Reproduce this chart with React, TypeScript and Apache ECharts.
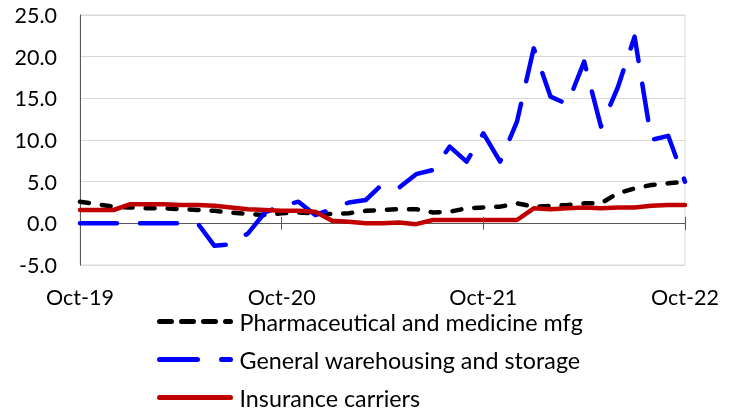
import React, { useEffect, useRef } from "react";
import * as echarts from "echarts";

const months = [
  "Oct-19", "Nov-19", "Dec-19", "Jan-20", "Feb-20", "Mar-20", "Apr-20", "May-20", "Jun-20", "Jul-20", "Aug-20", "Sep-20",
  "Oct-20", "Nov-20", "Dec-20", "Jan-21", "Feb-21", "Mar-21", "Apr-21", "May-21", "Jun-21", "Jul-21", "Aug-21", "Sep-21",
  "Oct-21", "Nov-21", "Dec-21", "Jan-22", "Feb-22", "Mar-22", "Apr-22", "May-22", "Jun-22", "Jul-22", "Aug-22", "Sep-22",
  "Oct-22",
];

const pharma = [
  2.6, 2.3, 2.0, 1.9, 1.8, 1.8, 1.7, 1.6, 1.5, 1.3, 1.1, 1.0,
  1.2, 1.3, 1.2, 1.1, 1.2, 1.5, 1.6, 1.7, 1.7, 1.3, 1.4, 1.8,
  1.9, 2.0, 2.4, 2.0, 2.1, 2.2, 2.4, 2.4, 3.6, 4.2, 4.6, 4.8,
  5.0,
];

const warehousing = [
  0, 0, 0, 0, 0, 0, 0, 0, -2.7, -2.5, -1.2, 1.3,
  2.1, 2.6, 1.0, 1.7, 2.5, 2.8, 4.7, 4.3, 5.9, 6.4, 9.2, 7.4,
  10.8, 7.4, 12.2, 21.0, 15.2, 14.3, 19.4, 11.6, 16.3, 22.4, 10.0, 10.5,
  5.0,
];

const insurance = [
  1.6, 1.6, 1.6, 2.3, 2.3, 2.3, 2.2, 2.2, 2.1, 1.9, 1.7, 1.6,
  1.5, 1.5, 1.4, 0.3, 0.2, 0.0, 0.0, 0.1, -0.1, 0.4, 0.4, 0.4,
  0.4, 0.4, 0.4, 1.8, 1.7, 1.8, 1.9, 1.8, 1.9, 1.9, 2.1, 2.2,
  2.2,
];

const seriesNames = [
  "Pharmaceutical and medicine mfg",
  "General warehousing and storage",
  "Insurance carriers",
];

// major (yearly) category ticks on the x axis
const yearTickIndices = [12, 24, 36];

const FONT = "Lato";
const FS = 21.5;
const LEGEND_FS = 23.3;

export default function App() {
  const ref = useRef<HTMLDivElement>(null);
  useEffect(() => {
    const chart = echarts.init(ref.current!, null, { renderer: "svg" });
    const everyYear = (i: number) => i % 12 === 0;
    const legendTops = [310, 348, 386];
    const legendDash: any[] = [[12, 10], [38, 24], "solid"];
    const tickHalf = 0.78;
    chart.setOption({
      animation: false,
      textStyle: { fontFamily: FONT },
      grid: {
        left: 80, right: 44, top: 15, bottom: 145,
        show: true, borderColor: "#d9d9d9", borderWidth: 1,
      },
      legend: seriesNames.map((name, i) => ({
        orient: "vertical",
        left: 157,
        top: legendTops[i],
        itemWidth: 71,
        itemHeight: 14,
        padding: 0,
        data: [name],
        itemStyle: { opacity: 0 },
        lineStyle: { width: 5, type: legendDash[i], cap: "round" },
        textStyle: {
          fontFamily: FONT, fontSize: LEGEND_FS, color: "#000",
          lineHeight: 22, padding: [0, 0, 0, 4],
        },
      })),
      xAxis: {
        type: "category",
        data: months,
        boundaryGap: false,
        axisLine: { onZero: true, lineStyle: { color: "#595959", width: 1 } },
        axisTick: { show: false },
        axisLabel: { interval: everyYear, margin: 21, fontSize: FS, color: "#000", fontFamily: FONT },
        splitLine: { show: false },
      },
      yAxis: {
        type: "value",
        min: -5,
        max: 25,
        interval: 5,
        axisLine: { show: true, lineStyle: { color: "#595959", width: 1 } },
        axisTick: { show: false },
        axisLabel: {
          margin: 23, fontSize: FS, color: "#000", fontFamily: FONT,
          formatter: (v: number) => v.toFixed(1),
        },
        splitLine: { lineStyle: { color: "#d9d9d9", width: 1 } },
      },
      series: [
        {
          name: seriesNames[0], type: "line", data: pharma, symbol: "none",
          lineStyle: { color: "#000000", width: 4.5, type: [9, 13], cap: "round", join: "round" },
          itemStyle: { color: "#000000" },
          markLine: {
            silent: true,
            symbol: "none",
            label: { show: false },
            lineStyle: { color: "#595959", width: 1, type: "solid" },
            data: yearTickIndices.map((i) => [
              { coord: [i, -tickHalf] },
              { coord: [i, tickHalf] },
            ]),
          },
        },
        {
          name: seriesNames[1], type: "line", data: warehousing, symbol: "none",
          lineStyle: { color: "#0000ff", width: 4.5, type: [37, 23], cap: "round", join: "round" },
          itemStyle: { color: "#0000ff" },
        },
        {
          name: seriesNames[2], type: "line", data: insurance, symbol: "none",
          lineStyle: { color: "#c00000", width: 4.5, type: "solid", cap: "round", join: "round" },
          itemStyle: { color: "#c00000" },
        },
      ],
    });
    return () => chart.dispose();
  }, []);
  return (
    <div
      ref={ref}
      style={{ position: "fixed", left: 0, top: 0, width: 729, height: 410 }}
    />
  );
}
